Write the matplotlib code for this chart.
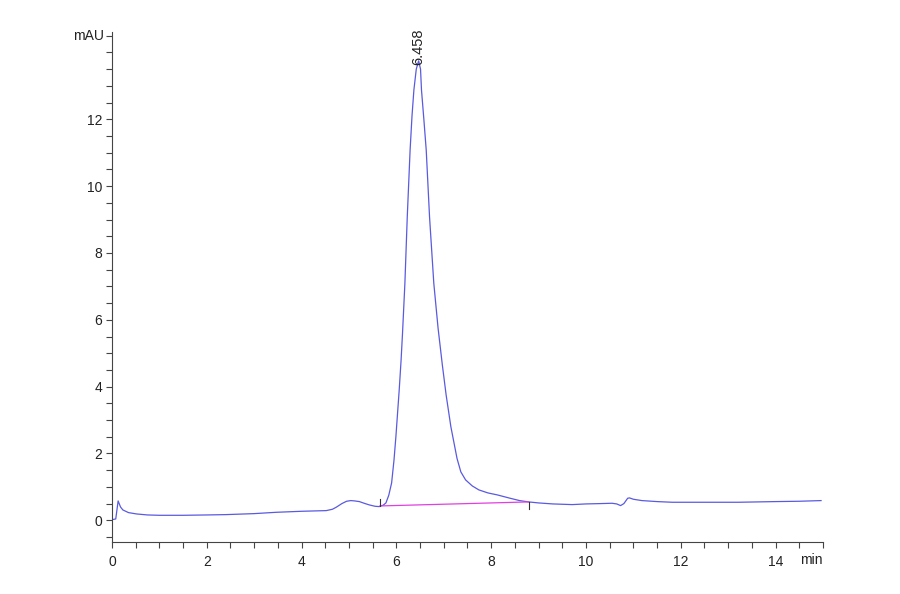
import matplotlib
matplotlib.use("Agg")
import matplotlib.pyplot as plt
from matplotlib.ticker import MultipleLocator

plt.rcParams['font.family'] = ['Liberation Sans', 'DejaVu Sans']

# Chromatogram trace (min, mAU)
time_min = [0.0, 0.08, 0.13, 0.18, 0.23, 0.35, 0.52, 0.75, 1.0, 1.5, 2.0, 2.4, 3.0,
            3.47, 4.0, 4.52, 4.65, 4.73, 4.85, 4.95, 5.04, 5.12, 5.22, 5.32, 5.43,
            5.55, 5.64, 5.66, 5.72, 5.78, 5.84, 5.90, 5.95, 5.99, 6.03, 6.06, 6.10,
            6.13, 6.18, 6.23, 6.29, 6.33, 6.37, 6.42, 6.47, 6.51, 6.53, 6.58, 6.63,
            6.70, 6.79, 6.88, 6.97, 7.05, 7.15, 7.28, 7.36, 7.46, 7.60, 7.74, 7.93,
            8.13, 8.4, 8.6, 8.79, 9.0, 9.3, 9.71, 10.0, 10.3, 10.55, 10.65, 10.73,
            10.80, 10.88, 10.92, 11.0, 11.18, 11.5, 11.82, 12.5, 13.22, 14.0, 14.5, 14.96]
signal_mau = [0.02, 0.04, 0.58, 0.40, 0.31, 0.23, 0.19, 0.16, 0.15, 0.15, 0.16, 0.17, 0.20,
              0.24, 0.27, 0.29, 0.33, 0.39, 0.50, 0.57, 0.59, 0.58, 0.56, 0.51, 0.46,
              0.42, 0.41, 0.43, 0.45, 0.52, 0.75, 1.12, 1.8, 2.5, 3.3, 3.9, 4.8,
              5.6, 7.09, 9.08, 11.08, 12.1, 12.88, 13.5, 13.75, 13.5, 12.88, 12.0, 11.08,
              9.08, 7.09, 5.75, 4.65, 3.75, 2.8, 1.85, 1.45, 1.21, 1.03, 0.91, 0.82,
              0.76, 0.66, 0.59, 0.55, 0.52, 0.49, 0.47, 0.49, 0.50, 0.51, 0.49, 0.44,
              0.50, 0.66, 0.67, 0.63, 0.59, 0.56, 0.54, 0.54, 0.54, 0.56, 0.57, 0.59]

# Integration baseline (start, end)
base_x = [5.66, 8.79]
base_y = [0.43, 0.55]

peak_rt = 6.458
peak_height = 13.62
peak_label = "6.458"

xticks = [0, 2, 4, 6, 8, 10, 12, 14]
yticks = [0, 2, 4, 6, 8, 10, 12]

fig = plt.figure(figsize=(9, 5.94), dpi=100)
ax = fig.add_axes([0.1244, 0.0875, 0.79, 0.8585])

ax.plot(time_min, signal_mau, color='#5a5ae0', lw=0.9)
ax.plot(base_x, base_y, color='#e040e0', lw=0.9)
# baseline markers
ax.plot([base_x[0], base_x[0]], [base_y[0], base_y[0] + 0.2], color='#333333', lw=0.8)
ax.plot([base_x[1], base_x[1]], [base_y[1], base_y[1] - 0.2], color='#333333', lw=0.8)

ax.text(peak_rt, peak_height, peak_label, rotation=90, ha='center', va='bottom',
        fontsize=10.5, color='#222222')

ax.set_xlim(0, 15)
ax.set_ylim(-0.65, 14.61)
ax.set_xticks(xticks)
ax.set_yticks(yticks)
ax.xaxis.set_minor_locator(MultipleLocator(0.5))
ax.yaxis.set_minor_locator(MultipleLocator(0.5))
ax.tick_params(which='both', direction='out', length=4, width=0.8, color='#444444',
               labelsize=10, labelcolor='#222222')
ax.tick_params(axis='x', pad=5)
ax.tick_params(axis='y', pad=3)

for s in ['top', 'right']:
    ax.spines[s].set_visible(False)
for s in ['left', 'bottom']:
    ax.spines[s].set_color('#444444')
    ax.spines[s].set_linewidth(0.8)

# unit labels in place of end tick labels
ax.text(-0.17, 14.5, "mAU", ha='right', va='center', fontsize=10, color='#222222')
ax.text(15.0, -1.19, "min", ha='right', va='center', fontsize=10, color='#222222')

fig.savefig("out.png", dpi=100)
